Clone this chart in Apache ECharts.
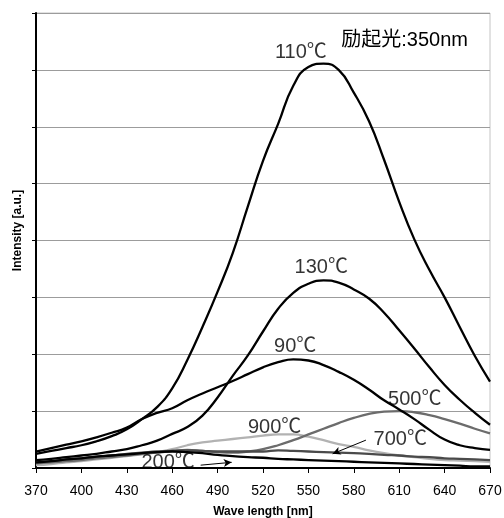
<!DOCTYPE html>
<html>
<head>
<meta charset="utf-8">
<script src="https://cdn.jsdelivr.net/npm/echarts@6/dist/echarts.min.js"></script>
<style>
  html, body { margin: 0; padding: 0; background: #fff; }
  #chart { width: 504px; height: 518px; }
</style>
</head>
<body>
<div id="chart"></div>
<script>
// wavelength axis (nm)
const wavelengths = [370, 380, 390, 400, 410, 420, 430, 440, 450, 460, 470, 480, 490, 500, 510, 520,
  530, 540, 550, 560, 570, 580, 590, 600, 610, 620, 630, 640, 650, 660, 670]
const xTicks = [370, 400, 430, 460, 490, 520, 550, 580, 610, 640, 670]

// intensity [a.u.] per anneal temperature
const i110 = [0.25, 0.30, 0.35, 0.40, 0.47, 0.56, 0.68, 0.86, 1.07, 1.4, 1.9, 2.48, 3.1, 3.78, 4.6, 5.4,
  6.05, 6.72, 7.05, 7.11, 7.0, 6.6, 6.1, 5.42, 4.68, 4.02, 3.48, 3.0, 2.48, 1.97, 1.52]
const i130 = [0.14, 0.16, 0.19, 0.22, 0.25, 0.29, 0.33, 0.40, 0.48, 0.60, 0.72, 0.92, 1.24, 1.62, 1.98, 2.4,
  2.8, 3.08, 3.24, 3.3, 3.26, 3.14, 2.98, 2.73, 2.42, 2.1, 1.77, 1.46, 1.2, 0.97, 0.76]
const i90 = [0.29, 0.35, 0.41, 0.47, 0.54, 0.62, 0.71, 0.86, 0.97, 1.05, 1.19, 1.31, 1.42, 1.53, 1.65, 1.77,
  1.86, 1.91, 1.89, 1.81, 1.69, 1.55, 1.38, 1.19, 1.03, 0.86, 0.67, 0.5, 0.4, 0.35, 0.32]
const i500 = [0.08, 0.10, 0.12, 0.14, 0.17, 0.19, 0.22, 0.25, 0.27, 0.30, 0.32, 0.30, 0.28, 0.27, 0.29, 0.33,
  0.40, 0.49, 0.59, 0.69, 0.79, 0.88, 0.95, 0.99, 1.0, 0.98, 0.93, 0.86, 0.78, 0.69, 0.61]
const i700 = [0.10, 0.12, 0.15, 0.17, 0.20, 0.22, 0.25, 0.27, 0.29, 0.30, 0.31, 0.30, 0.29, 0.29, 0.29, 0.29,
  0.31, 0.30, 0.29, 0.28, 0.27, 0.26, 0.25, 0.23, 0.22, 0.20, 0.19, 0.17, 0.16, 0.15, 0.14]
const i900 = [0.05, 0.07, 0.10, 0.12, 0.15, 0.18, 0.21, 0.24, 0.28, 0.33, 0.40, 0.45, 0.48, 0.51, 0.54, 0.57,
  0.59, 0.59, 0.55, 0.49, 0.42, 0.37, 0.31, 0.26, 0.22, 0.19, 0.16, 0.14, 0.13, 0.12, 0.11]
const i200 = [0.10, 0.12, 0.15, 0.17, 0.20, 0.22, 0.24, 0.26, 0.28, 0.29, 0.28, 0.26, 0.23, 0.21, 0.19, 0.18,
  0.16, 0.15, 0.14, 0.13, 0.12, 0.11, 0.10, 0.09, 0.08, 0.07, 0.06, 0.05, 0.04, 0.03, 0.03]

// curve labels: [wavelength, intensity, text]
const curveLabels = [
  [545, 7.31, '110℃'],
  [558.5, 3.53, '130℃'],
  [541.3, 2.13, '90℃'],
  [620.3, 1.2, '500℃'],
  [527.7, 0.72, '900℃'],
  [610.7, 0.51, '700℃'],
  [457.3, 0.09, '200℃']
]
// leader arrows: [from, to]
const arrows = [
  [[588, 0.49], [566, 0.25]],
  [[478.8, 0.05], [499.3, 0.1]]
]

const FONT = "'Liberation Sans', Arial, 'Noto Sans CJK JP', sans-serif"

const pair = (ys) => wavelengths.map((x, i) => [x, ys[i]])

const curve = (name, ys, color, z) => ({
  name,
  type: 'line',
  data: pair(ys),
  smooth: 0.5,
  symbol: 'none',
  z,
  lineStyle: { color, width: 2.3 },
  itemStyle: { color }
})

const chart = echarts.init(document.getElementById('chart'), null, { renderer: 'canvas' })

chart.setOption({
  animation: false,
  backgroundColor: '#fff',
  textStyle: { fontFamily: FONT },
  title: {
    text: '励起光:350nm',
    right: 31,
    top: 25,
    textStyle: { fontFamily: FONT, fontSize: 20, fontWeight: 'normal', color: '#000' }
  },
  grid: {
    left: 36, right: 14, top: 13, bottom: 50,
    containLabel: false,
    outerBoundsMode: 'none',
    show: true, borderColor: '#c4c4c4', borderWidth: 1
  },
  xAxis: {
    type: 'value',
    min: 370, max: 670, interval: 30,
    name: 'Wave length [nm]',
    nameLocation: 'middle',
    nameGap: 38,
    nameTextStyle: { fontFamily: FONT, fontSize: 12, fontWeight: 'bold', color: '#000' },
    axisLine: { lineStyle: { color: '#000', width: 2 } },
    axisTick: { show: true, length: 5, lineStyle: { color: '#000', width: 1 } },
    axisLabel: {
      color: '#000', fontSize: 14, margin: 16, fontFamily: FONT,
      customValues: xTicks
    },
    splitLine: { show: false }
  },
  yAxis: {
    type: 'value',
    min: 0, max: 8, interval: 1,
    name: 'Intensity [a.u.]',
    nameLocation: 'middle',
    nameGap: 12,
    nameTextStyle: { fontFamily: FONT, fontSize: 12, fontWeight: 'bold', color: '#000', padding: [0, 0, 0, 20] },
    axisLine: { show: true, lineStyle: { color: '#000', width: 2 } },
    axisTick: { show: true, inside: false, length: 4, lineStyle: { color: '#000' } },
    axisLabel: { show: false },
    splitLine: { lineStyle: { color: '#9c9c9c', width: 1 } }
  },
  series: [
    curve('900℃', i900, '#b2b2b2', 2),
    curve('500℃', i500, '#6c6c6c', 3),
    curve('700℃', i700, '#4a4a4a', 3),
    curve('200℃', i200, '#000', 4),
    curve('130℃', i130, '#000', 4),
    curve('90℃', i90, '#000', 4),
    curve('110℃', i110, '#000', 4),
    {
      name: 'labels',
      type: 'scatter',
      z: 6,
      symbolSize: 1,
      itemStyle: { color: 'rgba(0,0,0,0)' },
      data: curveLabels,
      label: {
        show: true,
        position: 'inside',
        formatter: (p) => p.data[2],
        color: '#000',
        fontSize: 20,
        fontFamily: FONT
      },
      markLine: {
        silent: true,
        symbol: ['none', 'arrow'],
        symbolSize: [6, 8],
        label: { show: false },
        lineStyle: { color: '#000', width: 1, type: 'solid' },
        data: arrows.map(([a, b]) => [{ coord: a }, { coord: b }])
      }
    }
  ]
})
</script>
</body>
</html>
